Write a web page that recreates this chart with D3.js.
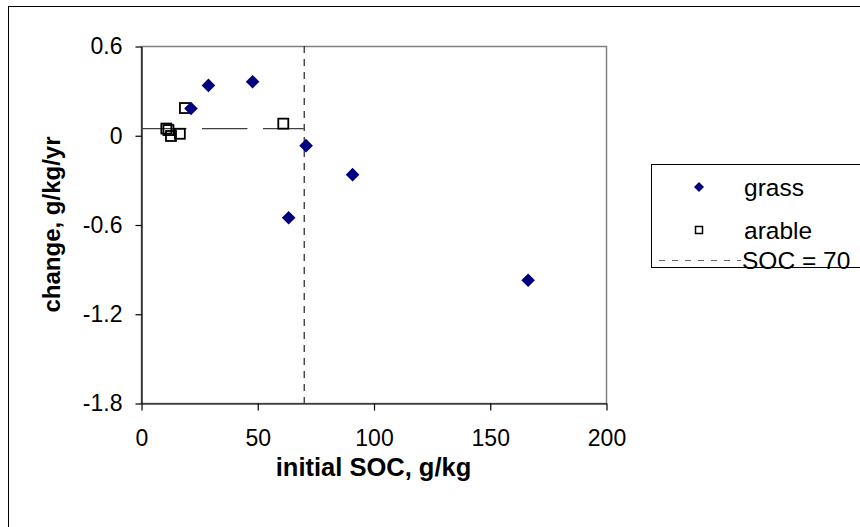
<!DOCTYPE html>
<html>
<head>
<meta charset="utf-8">
<script src="https://cdn.jsdelivr.net/npm/d3@7"></script>
<style>
  html, body { margin: 0; padding: 0; background: #fff; }
  svg { display: block; font-family: "Liberation Sans", Arial, sans-serif; }
</style>
</head>
<body>
<svg id="chart" width="860" height="527"></svg>
<script>
// ---- data ----
const grassX = [21.5, 29, 48, 63.5, 71, 91, 166.5];
const grassY = [0.18, 0.335, 0.36, -0.555, -0.07, -0.265, -0.975];
const arableX = [10.9, 11.8, 12.9, 16.7, 18.9, 61.2];
const arableY = [0.045, 0.035, -0.005, 0.01, 0.183, 0.078];
const meanLineX = [0, 70];
const meanLineY = [0.044, 0.044];
const socThreshold = [70];
const xTicks = [0, 50, 100, 150, 200];
const xTickLabels = ["0", "50", "100", "150", "200"];
const yTicks = [0.6, 0, -0.6, -1.2, -1.8];
const yTickLabels = ["0.6", "0", "-0.6", "-1.2", "-1.8"];
const legendLabels = ["grass", "arable", "SOC = 70"];
const xTitle = "initial SOC, g/kg";
const yTitle = "change, g/kg/yr";

// ---- layout ----
const svg = d3.select("#chart");
const W = 860, H = 527;
const plot = { left: 141, right: 606, top: 46, bottom: 403 };

svg.append("rect").attr("width", W).attr("height", H).attr("fill", "#fff");
// outer chart-area border (right/bottom run off the picture)
svg.append("rect").attr("x", 8.5).attr("y", 6.5).attr("width", 900).attr("height", 600)
  .attr("fill", "none").attr("stroke", "#000").attr("stroke-width", 1);

const x = d3.scaleLinear().domain([0, 200]).range([plot.left, plot.right]);
const y = d3.scaleLinear().domain([-1.8, 0.6]).range([plot.bottom, plot.top]);

// plot area border (gray)
svg.append("rect")
  .attr("x", plot.left + 0.5).attr("y", plot.top + 0.5)
  .attr("width", plot.right - plot.left).attr("height", plot.bottom - plot.top)
  .attr("fill", "none").attr("stroke", "#808080").attr("stroke-width", 1.5);

// axes
const xAxis = d3.axisBottom(x).tickValues(xTicks)
  .tickFormat((d, i) => xTickLabels[i]).tickSizeOuter(0).tickSizeInner(7).tickPadding(19);
const yAxis = d3.axisLeft(y).tickValues(yTicks)
  .tickFormat((d, i) => yTickLabels[i]).tickSizeOuter(0).tickSizeInner(6).tickPadding(13);

const gx = svg.append("g").attr("transform", `translate(0.5,${plot.bottom + 0.5})`).call(xAxis);
const gy = svg.append("g").attr("transform", `translate(${plot.left + 0.5},0.5)`).call(yAxis);
[gx, gy].forEach(g => {
  g.selectAll("path.domain").attr("stroke", "#000").attr("stroke-width", 1.2);
  g.selectAll(".tick line").attr("stroke", "#000").attr("stroke-width", 1.2);
  g.selectAll(".tick text").attr("font-size", 23).attr("fill", "#000")
    .attr("font-family", "Liberation Sans, Arial, sans-serif");
});

// mean line (long dashes)
const line = d3.line().x(d => x(d[0])).y(d => y(d[1]));
svg.append("path")
  .datum(meanLineX.map((v, i) => [v, meanLineY[i]]))
  .attr("d", line).attr("fill", "none")
  .attr("stroke", "#404040").attr("stroke-width", 1.3)
  .attr("stroke-dasharray", "45.5,15.5");

// SOC = 70 vertical line
svg.selectAll("line.soc").data(socThreshold).enter().append("line")
  .attr("class", "soc")
  .attr("x1", d => x(d) + 0.5).attr("x2", d => x(d) + 0.5)
  .attr("y1", plot.top).attr("y2", plot.bottom)
  .attr("stroke", "#333").attr("stroke-width", 1.3)
  .attr("stroke-dasharray", "7,6");

// markers
const diamond = (cx, cy, r) => `M${cx},${cy - r}L${cx + r},${cy}L${cx},${cy + r}L${cx - r},${cy}Z`;

svg.selectAll("rect.arable").data(arableX).enter().append("rect")
  .attr("class", "arable")
  .attr("x", (d) => x(d) - 5).attr("y", (d, i) => y(arableY[i]) - 5)
  .attr("width", 10).attr("height", 10)
  .attr("fill", "none").attr("stroke", "#000").attr("stroke-width", 1.8);

svg.selectAll("path.grass").data(grassX).enter().append("path")
  .attr("class", "grass")
  .attr("d", (d, i) => diamond(x(d), y(grassY[i]), 6.8))
  .attr("fill", "#000080");

// legend
const lg = svg.append("g");
lg.append("rect").attr("x", 651.5).attr("y", 164.5).attr("width", 260).attr("height", 103)
  .attr("fill", "#fff").attr("stroke", "#000").attr("stroke-width", 1);
const rowY = [187, 230, 260];
lg.append("path").attr("d", diamond(699, rowY[0], 5)).attr("fill", "#000080");
lg.append("rect").attr("x", 695.5).attr("y", rowY[1] - 3.5).attr("width", 7).attr("height", 7)
  .attr("fill", "none").attr("stroke", "#000").attr("stroke-width", 1.5);
lg.append("line").attr("x1", 659).attr("x2", 741).attr("y1", rowY[2] + 0.5).attr("y2", rowY[2] + 0.5)
  .attr("stroke", "#666").attr("stroke-width", 1).attr("stroke-dasharray", "6,7");
lg.selectAll("text").data(legendLabels).enter().append("text")
  .attr("x", (d, i) => i === 2 ? 742 : 744)
  .attr("y", (d, i) => rowY[i])
  .attr("dy", "0.35em")
  .attr("font-size", 24.5).attr("fill", "#000")
  .text(d => d);

// axis titles
svg.append("text").attr("x", (plot.left + plot.right) / 2).attr("y", 476)
  .attr("text-anchor", "middle").attr("font-size", 25.5).attr("font-weight", "bold")
  .text(xTitle);
svg.append("text")
  .attr("transform", `translate(60,${(plot.top + plot.bottom) / 2}) rotate(-90)`)
  .attr("text-anchor", "middle").attr("font-size", 24).attr("font-weight", "bold")
  .text(yTitle);
</script>
</body>
</html>
